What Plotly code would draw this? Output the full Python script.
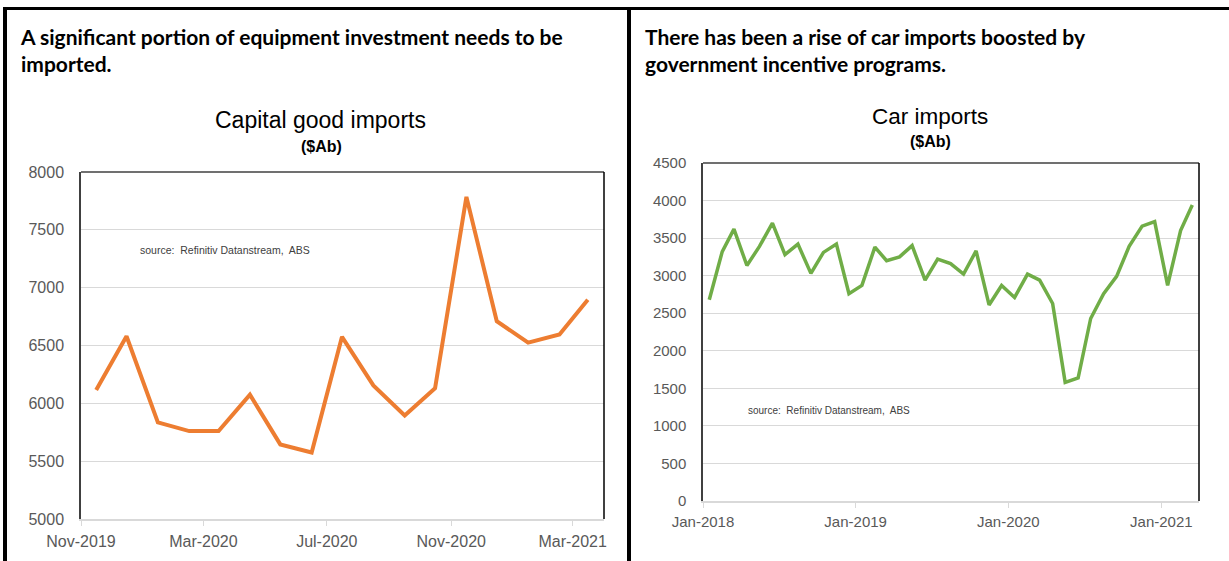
import pandas as pd
import plotly.graph_objects as go

W, H = 1229, 561

# ---------------- data ----------------
cap_months = ["2019-11", "2019-12", "2020-01", "2020-02", "2020-03", "2020-04",
              "2020-05", "2020-06", "2020-07", "2020-08", "2020-09", "2020-10",
              "2020-11", "2020-12", "2021-01", "2021-02", "2021-03"]
cap_values = [6115, 6580, 5835, 5760, 5760, 6075, 5645, 5575, 6575, 6155,
              5895, 6130, 7785, 6710, 6525, 6595, 6895]

car_months = [f"{y}-{m:02d}" for y in (2018, 2019, 2020) for m in range(1, 13)] + \
             ["2021-01", "2021-02", "2021-03"]
car_values = [2680, 3320, 3620, 3135, 3390, 3700, 3280, 3420, 3030, 3310,
              3420, 2760, 2870, 3380, 3200, 3250, 3400, 2940, 3220, 3160,
              3020, 3330, 2610, 2870, 2710, 3020, 2940, 2630, 1580, 1640,
              2430, 2760, 2990, 3390, 3660, 3720, 2870, 3600, 3940]

left_heading = "A significant portion of equipment investment needs to be<br>imported."
right_heading = "There has been a rise of car imports boosted by<br>government incentive programs."
source_text = "source:  Refinitiv Datanstream,  ABS"

# points sit in the middle of each month
def mid(months):
    return [pd.Timestamp(m + "-01") + pd.Timedelta(days=15) for m in months]

TICKFONT = dict(family="Liberation Sans, Arial, sans-serif", size=16, color="#595959")
TITLEFONT = "Liberation Sans Narrow, Arial Narrow, Liberation Sans, Arial, sans-serif"
HEADFONT = "Lato, Carlito, Calibri, sans-serif"

fig = go.Figure()
fig.add_trace(go.Scatter(x=mid(cap_months), y=cap_values, mode="lines",
                         line=dict(color="#ED7D31", width=4), xaxis="x", yaxis="y",
                         showlegend=False, hoverinfo="x+y"))
fig.add_trace(go.Scatter(x=mid(car_months), y=car_values, mode="lines",
                         line=dict(color="#70AD47", width=3.5), xaxis="x2", yaxis="y2",
                         showlegend=False, hoverinfo="x+y"))

def px_x(p):
    return p / W

def px_y(p):
    return 1 - p / H

fig.update_layout(
    width=W, height=H, margin=dict(l=0, r=0, t=0, b=0, autoexpand=False),
    paper_bgcolor="white", plot_bgcolor="white",
    xaxis=dict(domain=[px_x(81), px_x(604)], anchor="y", type="date", automargin=False,
               range=["2019-11-01", "2021-04-01"], tick0="2019-11-01", dtick="M4",
               tickformat="%b-%Y", showgrid=False, zeroline=False,
               showline=True, linecolor="#D9D9D9", linewidth=1.5,
               ticks="outside", ticklen=5, tickcolor="#D9D9D9",
               tickfont=TICKFONT, ticklabelstandoff=2),
    yaxis=dict(domain=[px_y(519), px_y(172)], anchor="x", range=[5000, 8000], automargin=False,
               dtick=500, showgrid=True, gridcolor="#D9D9D9", gridwidth=1,
               zeroline=False, showline=True, linecolor="#404040", linewidth=1.5,
               ticks="", tickfont=TICKFONT, ticklabelstandoff=12),
    xaxis2=dict(domain=[px_x(703), px_x(1199)], anchor="y2", type="date", automargin=False,
                range=["2018-01-01", "2021-04-01"], tick0="2018-01-01", dtick="M12",
                tickformat="%b-%Y", showgrid=False, zeroline=False,
                showline=True, linecolor="#D9D9D9", linewidth=1.5,
                ticks="outside", ticklen=5, tickcolor="#D9D9D9",
                tickfont=dict(TICKFONT, size=15), ticklabelstandoff=1),
    yaxis2=dict(domain=[px_y(501), px_y(163)], anchor="x2", range=[0, 4500], automargin=False,
                dtick=500, showgrid=True, gridcolor="#D9D9D9", gridwidth=1,
                zeroline=False, showline=True, linecolor="#404040", linewidth=1.5,
                ticks="", tickfont=dict(TICKFONT, size=15), ticklabelstandoff=12),
)

shapes = []
# plot frames: top and right edges
for xr, yr in (("x domain", "y domain"), ("x2 domain", "y2 domain")):
    shapes.append(dict(type="line", xref=xr, yref=yr, x0=0, x1=1, y0=1, y1=1,
                       line=dict(color="#404040", width=1.5)))
    shapes.append(dict(type="line", xref=xr, yref=yr, x0=1, x1=1, y0=0, y1=1,
                       line=dict(color="#000000", width=1.5)))
# outer black frame
shapes.append(dict(type="line", xref="paper", yref="paper", x0=px_x(3), x1=1,
                   y0=px_y(8.5), y1=px_y(8.5), line=dict(color="black", width=3)))
shapes.append(dict(type="line", xref="paper", yref="paper", x0=px_x(5), x1=px_x(5),
                   y0=0, y1=px_y(7), line=dict(color="black", width=4)))
shapes.append(dict(type="line", xref="paper", yref="paper", x0=px_x(629), x1=px_x(629),
                   y0=0, y1=px_y(7), line=dict(color="black", width=4)))
fig.update_layout(shapes=shapes)

ann = []
ann.append(dict(text=left_heading, xref="paper", yref="paper", x=px_x(18), y=px_y(22),
                xanchor="left", yanchor="top", align="left", showarrow=False,
                font=dict(family=HEADFONT, size=21, color="black", weight="bold")))
ann.append(dict(text=right_heading, xref="paper", yref="paper", x=px_x(643), y=px_y(22),
                xanchor="left", yanchor="top", align="left", showarrow=False,
                font=dict(family=HEADFONT, size=21, color="black", weight="bold")))
ann.append(dict(text="Capital good imports", xref="paper", yref="paper", x=px_x(320),
                y=px_y(120), xanchor="center", yanchor="middle", showarrow=False,
                font=dict(family=TITLEFONT, size=23, color="black")))
ann.append(dict(text="($Ab)", xref="paper", yref="paper", x=px_x(321),
                y=px_y(147), xanchor="center", yanchor="middle", showarrow=False,
                font=dict(family=TITLEFONT, size=16, color="black", weight="bold")))
ann.append(dict(text="Car imports", xref="paper", yref="paper", x=px_x(930),
                y=px_y(117), xanchor="center", yanchor="middle", showarrow=False,
                font=dict(family=TITLEFONT, size=22.5, color="black")))
ann.append(dict(text="($Ab)", xref="paper", yref="paper", x=px_x(930),
                y=px_y(141), xanchor="center", yanchor="middle", showarrow=False,
                font=dict(family=TITLEFONT, size=16, color="black", weight="bold")))
ann.append(dict(text=source_text, xref="paper", yref="paper", x=px_x(138),
                y=px_y(250), xanchor="left", yanchor="middle", showarrow=False,
                font=dict(family=TITLEFONT, size=10.5, color="#404040")))
ann.append(dict(text=source_text, xref="paper", yref="paper", x=px_x(746),
                y=px_y(410), xanchor="left", yanchor="middle", showarrow=False,
                font=dict(family=TITLEFONT, size=10, color="#404040")))
fig.update_layout(annotations=ann)

fig.write_html("out.html")
